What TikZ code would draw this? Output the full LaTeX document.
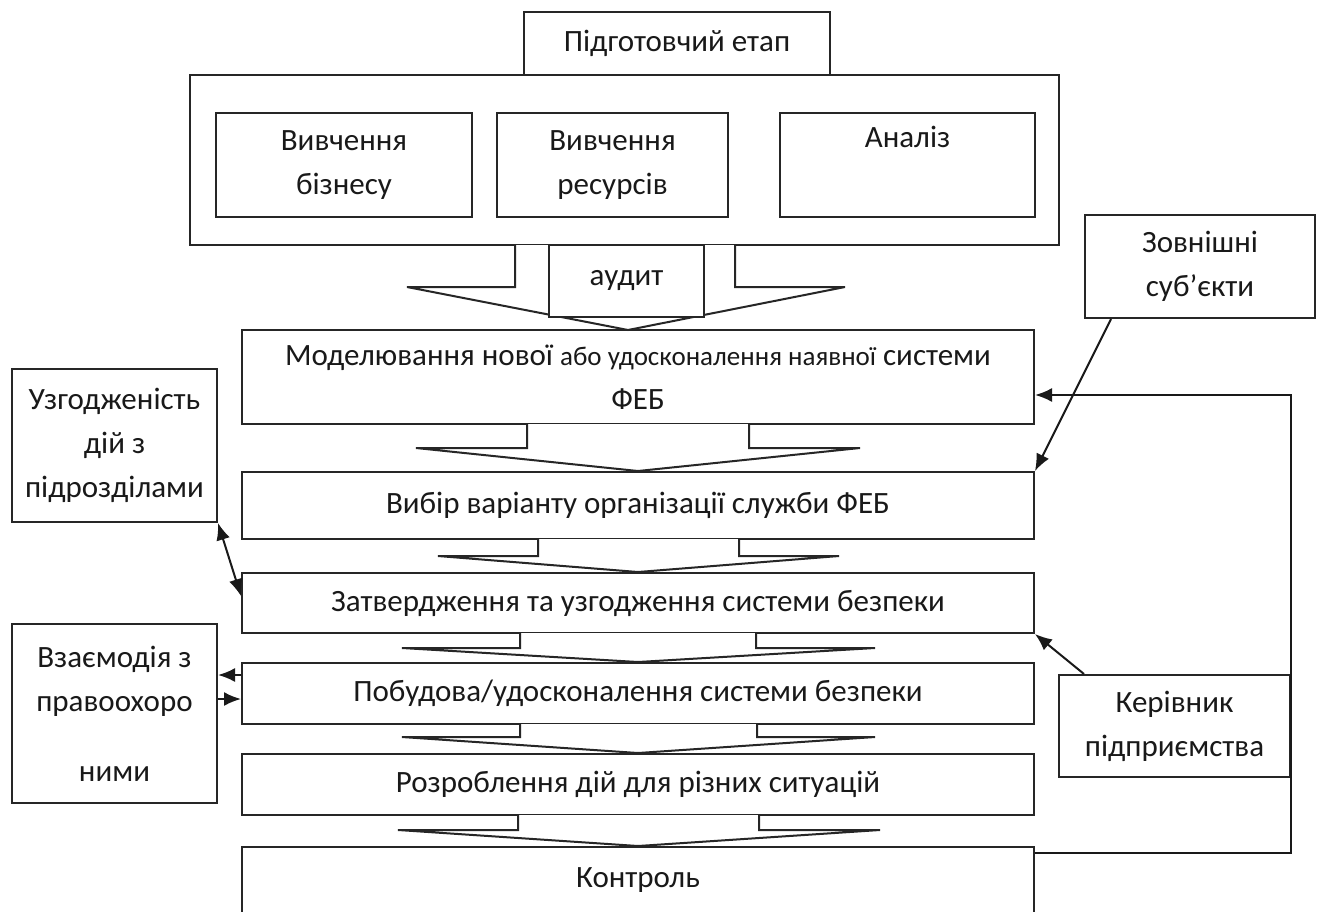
\documentclass[tikz,border=0pt]{standalone}
\usepackage{fontspec}
\setmainfont{Carlito}
\usetikzlibrary{arrows.meta,calc}
\begin{document}
\begin{tikzpicture}[x=1pt,y=-1pt,
  every node/.style={font=\fontsize{31}{44}\selectfont, text=black!90},
  box/.style={draw=black!85, line width=2pt, align=center, inner sep=0pt, fill=white},
  conn/.style={draw=black!90, line width=2pt, -{Latex[length=17pt,width=14pt]}},
  dconn/.style={draw=black!90, line width=2pt, {Latex[length=17pt,width=14pt]}-{Latex[length=17pt,width=14pt]}},
  hollow/.style={draw=black!85, line width=2pt, fill=white, line join=miter}]
\useasboundingbox (0,0) rectangle (1320,911);
\newcommand{\bx}[6]{\node[box, minimum width=#3-#2, minimum height=#5-#4] (#1) at ({(#2+#3)/2},{(#4+#5)/2}) {#6};}
% top group
\bx{outer}{190}{1059}{75}{245}{}
\bx{prep}{524}{830}{12}{75}{Підготовчий етап}
\bx{biz}{216}{472}{113}{217}{Вивчення\\бізнесу}
\bx{res}{497}{728}{113}{217}{Вивчення\\ресурсів}
\bx{anl}{780}{1035}{113}{217}{Аналіз\\\strut}
% main column
\bx{model}{242}{1034}{330}{424}{Моделювання нової {\fontsize{27}{44}\selectfont або удосконалення наявної} системи\\ФЕБ}
\bx{vybir}{242}{1034}{472}{539}{Вибір варіанту організації служби ФЕБ}
\bx{zatv}{242}{1034}{573}{633}{Затвердження та узгодження системи безпеки}
\bx{pob}{242}{1034}{663}{724}{Побудова/удосконалення системи безпеки}
\bx{rozr}{242}{1034}{754}{815}{Розроблення дій для різних ситуацій}
\bx{kontr}{242}{1034}{847}{913}{Контроль}
% side boxes
\bx{uzg}{12}{217}{369}{522}{Узгодженість\\дій з\\підрозділами}
\bx{vzaem}{12}{217}{624}{803}{Взаємодія з\\правоохоро\\[26pt]ними}
\bx{zovn}{1085}{1315}{215}{318}{\fontsize{31}{47}\selectfont Зовнішні\\суб’єкти}
\bx{kerivn}{1059}{1290}{675}{777}{Керівник\\підприємства}
% big hollow arrow from top group
\draw[hollow] (515,245) -- (515,287) -- (407,287) -- (628,330) -- (845,287) -- (735,287) -- (735,245);
\bx{audit}{549}{704}{245}{317}{аудит}
% hollow arrows between main boxes
\newcommand{\hol}[8]{\draw[hollow] (#1,#2) -- (#1,#3) -- (#5,#3) -- (#8.north) -- (#6,#3) -- (#4,#3) -- (#4,#2);}
\hol{527}{424}{448}{749}{416}{860}{}{vybir}
\hol{538}{539}{556}{739}{438}{839}{}{zatv}
\hol{520}{633}{648}{756}{402}{875}{}{pob}
\hol{520}{724}{737}{757}{402}{875}{}{rozr}
\hol{518}{815}{830}{759}{398}{880}{}{kontr}
% connectors
\draw[dconn] (uzg.south east) -- ($(zatv.north west)+(0,24)$);
\draw[conn] ($(pob.north west)+(0,13)$) -- ($(vzaem.east|-pob.north)+(0,13)$);
\draw[conn] ($(vzaem.east|-pob.north)+(0,37)$) -- ($(pob.north west)+(0,37)$);
\draw[conn] ($(zovn.south west)+(27,0)$) -- (vybir.north east);
\draw[conn] ($(kerivn.north west)+(26,0)$) -- (zatv.south east);
\coordinate (fb1) at ($(kontr.north east)+(256,7)$);
\draw[conn] ($(kontr.north east)+(0,7)$) -- (fb1) -- (fb1|-0,395) -- (model.east|-0,395);
\end{tikzpicture}
\end{document}
